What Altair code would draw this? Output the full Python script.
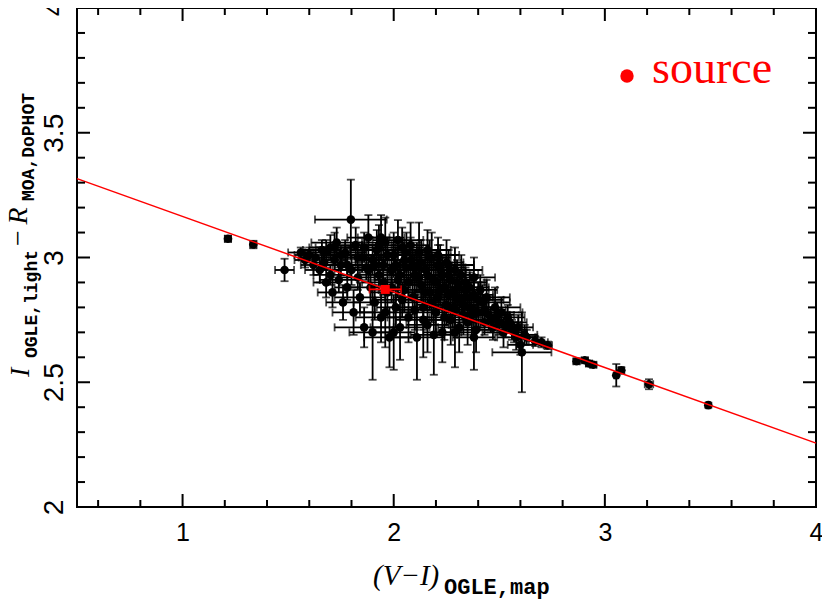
import altair as alt
import pandas as pd

# ---- data: (V-I) colour, I - R offset, and their errors ----
vi = [1.215, 1.335, 1.483, 1.56, 1.58, 1.60, 1.62, 1.63, 1.65, 1.66, 1.67, 1.68, 1.70, 1.70, 1.71, 1.72,
      1.73, 1.74, 1.75, 1.76, 1.77, 1.78, 1.797, 1.80, 1.81, 1.82, 1.83, 1.84, 1.85, 1.86, 1.87, 1.88,
      1.89, 1.90, 1.90, 1.91, 1.92, 1.93, 1.94, 1.95, 1.96, 1.97, 1.98, 1.99, 2.00, 2.01, 2.02, 2.03,
      2.04, 2.05, 2.06, 2.07, 2.08, 2.09, 2.10, 2.11, 2.12, 2.13, 2.14, 2.15, 2.16, 2.17, 2.18, 2.19,
      2.20, 2.21, 2.22, 2.23, 2.24, 2.25, 2.26, 2.27, 2.28, 2.29, 2.30, 2.31, 2.32, 2.33, 2.34, 2.35,
      2.36, 2.38, 2.39, 2.40, 2.42, 2.43, 2.45, 2.47, 2.48, 2.50, 2.52, 2.54, 2.56, 2.58, 2.60, 2.607,
      2.63, 2.67, 2.70, 2.73, 2.866, 2.905, 2.925, 2.945, 3.054, 3.078, 3.209, 3.49,
      1.75, 1.78, 1.83, 1.86, 1.88, 1.91, 1.93, 1.95, 1.97, 1.99, 2.01, 2.03, 2.04, 2.06, 2.07, 2.09,
      2.10, 2.12, 2.13, 2.15, 2.16, 2.17, 2.18, 2.20, 2.21, 2.22, 2.23, 2.24, 2.25, 2.26, 2.27, 2.28,
      2.29, 2.30, 2.31, 2.32, 2.33, 2.34, 2.35, 2.36, 2.37, 2.38, 2.40, 2.41, 2.43, 2.44, 2.46, 2.49,
      2.51, 2.53, 2.55, 2.57, 2.59, 2.62, 2.00, 2.19, 2.29, 2.38, 1.96, 2.14,
      1.68, 1.72, 1.94, 2.02, 2.05, 2.08, 2.11, 2.16, 2.21, 2.26]
dmag = [3.075, 3.052, 2.950, 3.02, 2.99, 3.01, 2.97, 3.00, 2.95, 3.03, 2.98, 2.90, 3.04, 2.93, 2.86, 2.99,
        3.06, 2.91, 2.97, 2.82, 3.02, 2.88, 3.152, 2.95, 2.78, 3.05, 2.92, 2.84, 3.00, 2.72, 2.96, 3.08,
        2.88, 2.70, 2.99, 2.82, 3.03, 2.93, 2.76, 2.97, 3.06, 2.86, 2.68, 2.95, 3.01, 2.80, 2.91, 2.72,
        3.04, 2.87, 2.96, 2.76, 2.99, 2.84, 2.93, 2.68, 3.02, 2.89, 2.80, 2.95, 2.73, 2.86, 3.00, 2.91,
        2.78, 2.84, 2.96, 2.70, 2.88, 2.81, 2.93, 2.75, 2.86, 2.79, 2.90, 2.72, 2.83, 2.77, 2.87, 2.74,
        2.80, 2.85, 2.71, 2.78, 2.82, 2.74, 2.77, 2.72, 2.80, 2.74, 2.70, 2.76, 2.71, 2.68, 2.65, 2.62,
        2.68, 2.665, 2.66, 2.648, 2.584, 2.588, 2.575, 2.570, 2.528, 2.548, 2.492, 2.408,
        3.01, 2.97, 3.00, 3.04, 2.95, 2.97, 3.05, 2.90, 3.01, 2.88, 2.97, 2.93, 2.83, 3.02, 2.90, 2.97,
        2.79, 2.92, 2.98, 2.86, 2.93, 3.00, 2.82, 2.90, 2.97, 2.87, 2.93, 2.76, 2.98, 2.85, 2.91, 2.80,
        2.95, 2.84, 2.88, 2.93, 2.81, 2.90, 2.84, 2.88, 2.77, 2.92, 2.83, 2.87, 2.79, 2.84, 2.75, 2.77,
        2.78, 2.73, 2.74, 2.70, 2.72, 2.69, 2.70, 2.69, 2.70, 2.68, 2.78, 2.75,
        3.02, 3.04, 3.08, 3.07, 2.99, 3.05, 2.96, 3.03, 3.01, 2.97]
vi_err = [0.015, 0.015, 0.045, 0.06, 0.05, 0.07, 0.06, 0.08, 0.07, 0.09, 0.05, 0.06, 0.10, 0.08, 0.07, 0.06,
          0.12, 0.09, 0.07, 0.08, 0.10, 0.06, 0.17, 0.09, 0.10, 0.11, 0.08, 0.12, 0.09, 0.14, 0.07, 0.10,
          0.12, 0.11, 0.08, 0.10, 0.13, 0.09, 0.12, 0.11, 0.09, 0.08, 0.12, 0.10, 0.13, 0.09, 0.11, 0.14,
          0.10, 0.12, 0.09, 0.10, 0.15, 0.08, 0.12, 0.13, 0.10, 0.11, 0.09, 0.14, 0.10, 0.12, 0.09, 0.11,
          0.13, 0.10, 0.12, 0.09, 0.11, 0.14, 0.10, 0.12, 0.09, 0.11, 0.13, 0.10, 0.12, 0.09, 0.11, 0.10,
          0.12, 0.09, 0.11, 0.10, 0.13, 0.09, 0.10, 0.08, 0.12, 0.09, 0.10, 0.08, 0.07, 0.09, 0.06, 0.14,
          0.05, 0.03, 0.03, 0.02, 0.015, 0.015, 0.015, 0.015, 0.01, 0.012, 0.02, 0.01,
          0.08, 0.11, 0.14, 0.09, 0.10, 0.12, 0.08, 0.10, 0.13, 0.09, 0.11, 0.10, 0.13, 0.09, 0.11, 0.13,
          0.10, 0.09, 0.12, 0.10, 0.11, 0.08, 0.13, 0.10, 0.12, 0.09, 0.11, 0.10, 0.08, 0.12, 0.10, 0.11,
          0.13, 0.09, 0.10, 0.08, 0.11, 0.10, 0.12, 0.09, 0.11, 0.10, 0.12, 0.08, 0.10, 0.11, 0.09, 0.08,
          0.10, 0.07, 0.08, 0.06, 0.07, 0.06, 0.10, 0.11, 0.09, 0.10, 0.12, 0.13,
          0.10, 0.09, 0.11, 0.12, 0.10, 0.09, 0.13, 0.11, 0.10, 0.12]
dmag_err = [0.012, 0.015, 0.045, 0.02, 0.03, 0.03, 0.04, 0.03, 0.05, 0.04, 0.03, 0.06, 0.05, 0.04, 0.06, 0.04,
            0.06, 0.05, 0.04, 0.07, 0.05, 0.05, 0.16, 0.06, 0.09, 0.07, 0.05, 0.06, 0.06, 0.08, 0.05, 0.09,
            0.07, 0.19, 0.06, 0.07, 0.08, 0.06, 0.10, 0.07, 0.10, 0.08, 0.12, 0.06, 0.09, 0.08, 0.07, 0.13,
            0.08, 0.09, 0.07, 0.10, 0.09, 0.07, 0.08, 0.17, 0.12, 0.07, 0.09, 0.08, 0.11, 0.07, 0.10, 0.08,
            0.09, 0.07, 0.09, 0.12, 0.07, 0.08, 0.08, 0.10, 0.07, 0.08, 0.09, 0.10, 0.07, 0.08, 0.08, 0.09,
            0.07, 0.08, 0.09, 0.06, 0.07, 0.05, 0.06, 0.05, 0.08, 0.05, 0.06, 0.05, 0.04, 0.05, 0.04, 0.16,
            0.03, 0.02, 0.02, 0.015, 0.01, 0.01, 0.01, 0.01, 0.045, 0.012, 0.02, 0.01,
            0.03, 0.04, 0.05, 0.06, 0.05, 0.06, 0.08, 0.05, 0.07, 0.06, 0.07, 0.06, 0.07, 0.08, 0.06, 0.08,
            0.08, 0.06, 0.09, 0.07, 0.06, 0.07, 0.08, 0.07, 0.08, 0.06, 0.07, 0.09, 0.09, 0.07, 0.06, 0.08,
            0.09, 0.06, 0.07, 0.08, 0.07, 0.06, 0.07, 0.06, 0.08, 0.08, 0.07, 0.06, 0.06, 0.07, 0.05, 0.05,
            0.06, 0.05, 0.04, 0.04, 0.05, 0.04, 0.15, 0.16, 0.14, 0.13, 0.14, 0.15,
            0.05, 0.06, 0.09, 0.08, 0.07, 0.09, 0.10, 0.08, 0.07, 0.06]

# source star
src_vi = [1.96]
src_dmag = [2.872]
src_vi_err = [0.075]

# best-fit line endpoints
fit_vi = [0.5, 4.0]
fit_dmag = [3.316, 2.256]

# axis ticks
x_labels = [1, 2, 3, 4]
x_major = [1, 2, 3]
x_minor = [0.6, 0.8, 1.2, 1.4, 1.6, 1.8, 2.2, 2.4, 2.6, 2.8, 3.2, 3.4, 3.6, 3.8]
y_labels = [2, 2.5, 3, 3.5, 4]
y_major = [2.5, 3, 3.5]
y_minor = [2.1, 2.2, 2.3, 2.4, 2.6, 2.7, 2.8, 2.9, 3.1, 3.2, 3.3, 3.4, 3.6, 3.7, 3.8, 3.9]

W, H = 739, 499
BLACK = "#000000"
RED = "#ff0000"

df = pd.DataFrame({"x": vi, "y": dmag, "ex": vi_err, "ey": dmag_err})
df["xlo"] = df.x - df.ex
df["xhi"] = df.x + df.ex
df["ylo"] = df.y - df.ey
df["yhi"] = df.y + df.ey

sdf = pd.DataFrame({"x": src_vi, "y": src_dmag, "ex": src_vi_err})
sdf["xlo"] = sdf.x - sdf.ex
sdf["xhi"] = sdf.x + sdf.ex

fdf = pd.DataFrame({"x": fit_vi, "y": fit_dmag})

xs = alt.Scale(domain=[0.5, 4], nice=False, zero=False)
ys = alt.Scale(domain=[2, 4], nice=False, zero=False)

xaxis = alt.Axis(values=x_labels, format="~g", ticks=False, domain=False, grid=False,
                 labelFont="Liberation Sans", labelFontSize=25, labelColor=BLACK,
                 labelPadding=13, labelFlush=False, labelOverlap=False)
yaxis = alt.Axis(values=y_labels, format="~g", ticks=False, domain=False, grid=False,
                 labelFont="Liberation Sans", labelFontSize=28, labelColor=BLACK,
                 labelAngle=270, labelAlign="center", labelBaseline="alphabetic",
                 labelPadding=15, labelFlush=False, labelOverlap=False)


def X(f, **kw):
    return alt.X(f, type="quantitative", scale=xs, title=None, **kw)


def Y(f, **kw):
    return alt.Y(f, type="quantitative", scale=ys, title=None, **kw)


base = alt.Chart(df)
lw = 1.8
hbar = base.mark_rule(color=BLACK, strokeWidth=lw).encode(
    x=X("xlo", axis=xaxis), x2="xhi", y=Y("y", axis=yaxis))
vbar = base.mark_rule(color=BLACK, strokeWidth=lw).encode(x=X("x"), y=Y("ylo"), y2="yhi")
cap_l = base.mark_tick(color=BLACK, orient="vertical", size=8, thickness=lw).encode(x=X("xlo"), y=Y("y"))
cap_r = base.mark_tick(color=BLACK, orient="vertical", size=8, thickness=lw).encode(x=X("xhi"), y=Y("y"))
cap_b = base.mark_tick(color=BLACK, orient="horizontal", size=8, thickness=lw).encode(x=X("x"), y=Y("ylo"))
cap_t = base.mark_tick(color=BLACK, orient="horizontal", size=8, thickness=lw).encode(x=X("x"), y=Y("yhi"))
pts = base.mark_circle(color=BLACK, size=75, opacity=1).encode(x=X("x"), y=Y("y"))

fit = alt.Chart(fdf).mark_line(color=RED, strokeWidth=1.5).encode(x=X("x"), y=Y("y"))

sbase = alt.Chart(sdf)
s_h = sbase.mark_rule(color=RED, strokeWidth=1.8).encode(x=X("xlo"), x2="xhi", y=Y("y"))
s_cl = sbase.mark_tick(color=RED, orient="vertical", size=8, thickness=1.8).encode(x=X("xlo"), y=Y("y"))
s_cr = sbase.mark_tick(color=RED, orient="vertical", size=8, thickness=1.8).encode(x=X("xhi"), y=Y("y"))
s_pt = sbase.mark_square(color=RED, size=80, opacity=1).encode(x=X("x"), y=Y("y"))

# inward ticks on all four sides
xmaj = alt.Chart(pd.DataFrame({"v": x_major}))
xmin = alt.Chart(pd.DataFrame({"v": x_minor}))
ymaj = alt.Chart(pd.DataFrame({"v": y_major}))
ymin = alt.Chart(pd.DataFrame({"v": y_minor}))
tw = 2
MJ, MN = 13, 7
ticks = [
    xmaj.mark_rule(color=BLACK, strokeWidth=tw).encode(x=X("v"), y=alt.value(H), y2=alt.value(H - MJ)),
    xmin.mark_rule(color=BLACK, strokeWidth=tw).encode(x=X("v"), y=alt.value(H), y2=alt.value(H - MN)),
    xmaj.mark_rule(color=BLACK, strokeWidth=tw).encode(x=X("v"), y=alt.value(0), y2=alt.value(MJ)),
    xmin.mark_rule(color=BLACK, strokeWidth=tw).encode(x=X("v"), y=alt.value(0), y2=alt.value(MN)),
    ymaj.mark_rule(color=BLACK, strokeWidth=tw).encode(y=Y("v"), x=alt.value(0), x2=alt.value(MJ)),
    ymin.mark_rule(color=BLACK, strokeWidth=tw).encode(y=Y("v"), x=alt.value(0), x2=alt.value(MN + 1)),
    ymaj.mark_rule(color=BLACK, strokeWidth=tw).encode(y=Y("v"), x=alt.value(W), x2=alt.value(W - MJ)),
    ymin.mark_rule(color=BLACK, strokeWidth=tw).encode(y=Y("v"), x=alt.value(W), x2=alt.value(W - MN - 1)),
]

# legend
leg_dot = alt.Chart(pd.DataFrame({"t": ["source"]})).mark_circle(color=RED, size=180, opacity=1).encode(
    x=alt.value(550), y=alt.value(68))
leg_txt = alt.Chart(pd.DataFrame({"t": ["source"]})).mark_text(
    color=RED, font="Liberation Serif", fontSize=46, align="left", baseline="alphabetic").encode(
    x=alt.value(575), y=alt.value(75), text="t:N")


def label(txt, x, y, font, size, style="normal", weight="normal", angle=0, align="left"):
    return alt.Chart(pd.DataFrame({"t": [txt]})).mark_text(
        color=BLACK, font=font, fontSize=size, fontStyle=style, fontWeight=weight,
        angle=angle, align=align, baseline="alphabetic").encode(
        x=alt.value(x), y=alt.value(y), text="t:N")


titles = [
    label("(V\u2212I)", 296, 577, "Liberation Serif", 29, style="italic"),
    label("OGLE,map", 367, 586, "Liberation Mono", 22, weight="bold"),
    label("I", -48, 369, "Liberation Serif", 28, style="italic", angle=270),
    label("OGLE,light", -40, 350, "Liberation Mono", 18, weight="bold", angle=270),
    label("\u2212", -50, 230, "Liberation Serif", 28, angle=270, align="center"),
    label("R", -50, 208, "Liberation Serif", 28, style="italic", angle=270, align="center"),
    label("MOA,DoPHOT", -43, 193, "Liberation Mono", 18, weight="bold", angle=270),
]

chart = alt.layer(
    hbar, vbar, cap_l, cap_r, cap_b, cap_t, pts, fit, s_h, s_cl, s_cr, s_pt,
    *ticks, leg_dot, leg_txt, *titles
).properties(
    width=W, height=H,
    autosize=alt.AutoSizeParams(type="none"),
    padding={"left": 69, "top": 0, "right": 6, "bottom": 94},
    background="white",
).configure_view(stroke=BLACK, strokeWidth=2)

chart.save("out.html", embed_options={"renderer": "svg", "actions": False})
